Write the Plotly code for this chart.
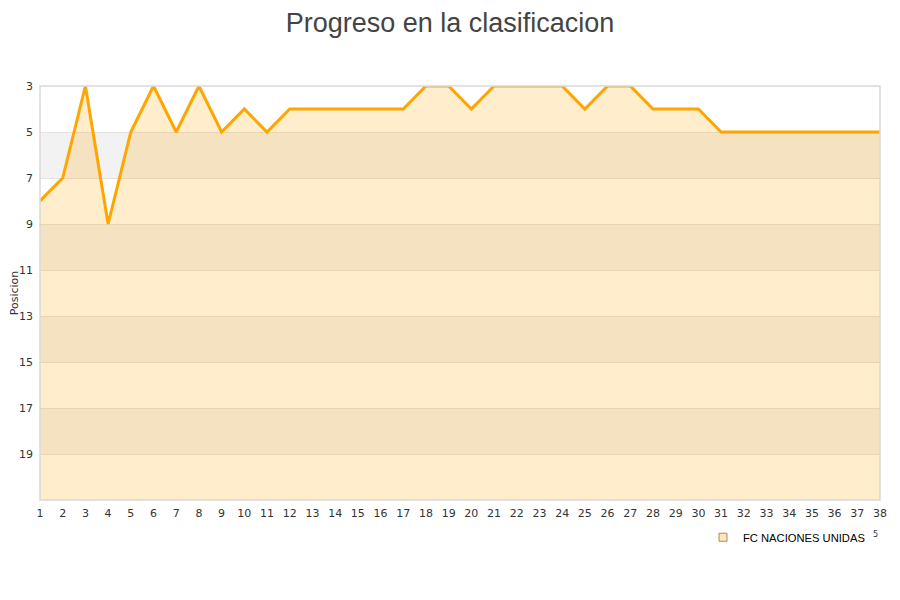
import plotly.graph_objects as go

rounds = list(range(1, 39))
positions = [8, 7, 3, 9, 5, 3, 5, 3, 5, 4, 5, 4, 4, 4, 4, 4, 4, 3, 3, 4,
             3, 3, 3, 3, 4, 3, 3, 4, 4, 4, 5, 5, 5, 5, 5, 5, 5, 5]
y_ticks = [3, 5, 7, 9, 11, 13, 15, 17, 19]
team = "FC NACIONES UNIDAS"

fig = go.Figure()
fig.add_trace(go.Scatter(x=rounds, y=[21] * len(rounds), mode="lines",
                         line=dict(width=0), showlegend=False, hoverinfo="skip"))
fig.add_trace(go.Scatter(x=rounds, y=positions, mode="lines", fill="tonexty",
                         fillcolor="rgba(255,165,0,0.2)",
                         line=dict(color="#ffa500", width=3),
                         showlegend=False))
fig.add_trace(go.Scatter(x=[None], y=[None], mode="markers", name=team,
                         marker=dict(symbol="square", size=8,
                                     color="rgba(255,165,0,0.25)",
                                     line=dict(color="#b08a4a", width=1))))

shapes = []
for lo in [5, 9, 13, 17]:
    shapes.append(dict(type="rect", xref="paper", yref="y", x0=0, x1=1,
                       y0=lo, y1=lo + 2, fillcolor="#f2f2f2",
                       line=dict(width=0), layer="below"))
shapes.append(dict(type="rect", xref="paper", yref="paper", x0=0, x1=1,
                   y0=0, y1=1, line=dict(color="#d9d9d9", width=1.5),
                   fillcolor="rgba(0,0,0,0)", layer="above"))

fig.update_layout(
    width=900, height=600,
    margin=dict(l=32, r=28, t=78, b=108),
    paper_bgcolor="white", plot_bgcolor="white",
    title=dict(text="Progreso en la clasificacion", x=442 / 900, xanchor="center",
               y=1 - 5 / 600, yanchor="top", yref="container",
               font=dict(family="Liberation Sans, Arial", size=27, color="#444")),
    shapes=shapes,
    xaxis=dict(range=[1, 38], tickmode="array", tickvals=rounds,
               ticktext=[str(r) for r in rounds], showgrid=False,
               zeroline=False, showline=False, ticks="", automargin=False,
               ticklabelstandoff=5,
               tickfont=dict(family="DejaVu Sans", size=11, color="#333")),
    yaxis=dict(range=[21, 3], tickmode="array", tickvals=y_ticks,
               showgrid=True, gridcolor="#e2e2e2", gridwidth=1, zeroline=False,
               showline=False, ticks="", ticklabelstandoff=6, automargin=False,
               title=dict(text="Posicion", standoff=7,
                          font=dict(family="DejaVu Sans", size=11, color="#333")),
               tickfont=dict(family="DejaVu Sans", size=11, color="#333")),
    legend=dict(x=0.7893, y=-0.09, xanchor="left", yanchor="middle",
                font=dict(family="Liberation Sans, Arial", size=11.2, color="#000"),
                bgcolor="rgba(0,0,0,0)", itemwidth=30),
    annotations=[dict(text="5", xref="paper", yref="paper", x=1.0, y=-0.0997,
                      showarrow=False, font=dict(family="DejaVu Sans", size=8,
                                                 color="#333"))],
)

fig.write_html("out.html")
